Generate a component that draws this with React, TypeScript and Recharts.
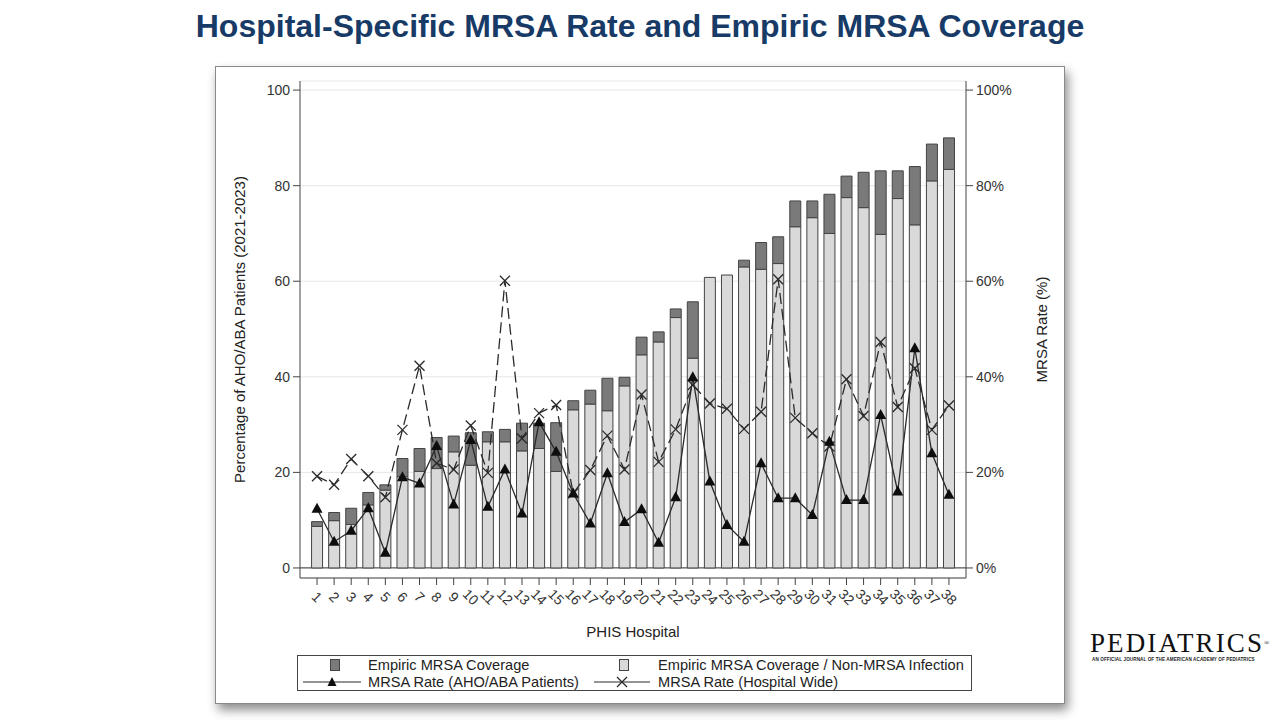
import React from 'react';
import {
  ComposedChart, Bar, Line, XAxis, YAxis, CartesianGrid,
} from 'recharts';

// PHIS hospitals, ordered by empiric MRSA coverage
const hospitals = [
  '1', '2', '3', '4', '5', '6', '7', '8', '9', '10',
  '11', '12', '13', '14', '15', '16', '17', '18', '19', '20',
  '21', '22', '23', '24', '25', '26', '27', '28', '29', '30',
  '31', '32', '33', '34', '35', '36', '37', '38',
];

// % of AHO/ABA patients with empiric MRSA coverage (full bar height)
const empiricCoverage = [
  9.7, 11.6, 12.5, 15.8, 17.4, 22.9, 25.0, 27.3, 27.6, 28.3,
  28.5, 29.0, 30.3, 30.3, 30.4, 35.0, 37.2, 39.7, 39.9, 48.3,
  49.4, 54.2, 55.7, 60.8, 61.3, 64.4, 68.1, 69.3, 76.8, 76.8,
  78.2, 82.0, 82.8, 83.1, 83.1, 84.0, 88.7, 90.0,
];

// ...of which the infection turned out not to be MRSA (light part)
const coverageNonMrsa = [
  8.7, 9.9, 9.1, 13.2, 16.3, 19.1, 20.2, 20.8, 24.3, 21.5,
  26.4, 26.4, 24.5, 25.0, 20.2, 33.1, 34.3, 32.9, 38.1, 44.6,
  47.3, 52.4, 43.9, 60.8, 61.3, 63.0, 62.5, 63.7, 71.4, 73.3,
  70.0, 77.5, 75.4, 69.8, 77.3, 71.8, 81.0, 83.4,
];

// MRSA rate (%) among AHO/ABA patients
const mrsaRateAho = [
  12.4, 5.5, 7.8, 12.5, 3.2, 19.0, 17.7, 25.5, 13.3, 26.8,
  12.8, 20.6, 11.4, 30.5, 24.3, 15.6, 9.3, 19.8, 9.6, 12.3,
  5.3, 14.8, 39.9, 18.1, 9.0, 5.5, 21.9, 14.6, 14.6, 11.1,
  26.4, 14.2, 14.2, 32.0, 16.0, 46.0, 24.0, 15.3,
];

// MRSA rate (%) hospital wide
const mrsaRateHospital = [
  19.2, 17.4, 22.8, 19.2, 14.8, 28.9, 42.3, 21.9, 20.6, 29.8,
  19.9, 60.1, 27.1, 32.4, 34.1, 15.6, 20.5, 27.7, 20.6, 36.3,
  22.2, 29.0, 38.3, 34.4, 33.3, 29.1, 32.7, 60.4, 31.4, 28.2,
  25.4, 39.5, 31.8, 47.3, 33.7, 41.8, 28.9, 34.0,
];

const yTicks = [0, 20, 40, 60, 80, 100];

const data = hospitals.map((h, i) => ({
  hospital: h,
  nonMrsa: coverageNonMrsa[i],
  coverage: +(empiricCoverage[i] - coverageNonMrsa[i]).toFixed(1),
  aho: mrsaRateAho[i],
  wide: mrsaRateHospital[i],
}));

const FONT = '"Liberation Sans", Arial, sans-serif';
const AXIS = '#444444';
const TEXT = '#333333';
const DARK_BAR = '#7a7a7a';
const LIGHT_BAR = '#d9d9d9';
const LINE = '#2a2a2a';

const tickStyle = { fill: TEXT, fontSize: 14, fontFamily: FONT };

const XTick = ({ x, y, payload }: any) => (
  <g transform={`translate(${x},${y + 10}) rotate(45)`}>
    <text textAnchor="middle" dy="0.35em" fill={TEXT} fontSize={14} fontFamily={FONT}>
      {payload.value}
    </text>
  </g>
);

const Triangle = ({ cx, cy, index }: any) => {
  if (cx == null || cy == null) return null;
  return (
    <polygon
      key={`tri-${index}`}
      points={`${cx},${cy - 6} ${cx - 5.5},${cy + 4} ${cx + 5.5},${cy + 4}`}
      fill="#0d0d0d"
    />
  );
};

const Cross = ({ cx, cy, index }: any) => {
  if (cx == null || cy == null) return null;
  const r = 5;
  return (
    <g key={`x-${index}`} stroke={LINE} strokeWidth={1.3} strokeDasharray="none">
      <line x1={cx - r} y1={cy - r} x2={cx + r} y2={cy + r} />
      <line x1={cx - r} y1={cy + r} x2={cx + r} y2={cy - r} />
    </g>
  );
};

const GridLine = (p: any) => (
  <line
    key={`g-${p.index}`}
    x1={p.x1} y1={p.y1} x2={p.x2} y2={p.y2}
    stroke={p.index === 0 ? '#555555' : '#e6e6e6'}
    strokeWidth={p.index === 0 ? 1.2 : 1}
  />
);

function LegendBox() {
  const text: React.CSSProperties = {
    position: 'absolute', fontSize: 14.6, fontFamily: FONT, color: '#222', lineHeight: '16px',
    whiteSpace: 'nowrap',
  };
  return (
    <div style={{
      position: 'absolute', left: 297, top: 655, width: 675, height: 36,
      border: '1px solid #444', background: '#fff', boxSizing: 'border-box',
    }}>
      <svg style={{ position: 'absolute', left: 32, top: 3 }} width={10} height={12}>
        <rect x={0.5} y={0.5} width={9} height={11} fill={DARK_BAR} stroke={AXIS} />
      </svg>
      <span style={{ ...text, left: 70, top: 1 }}>Empiric MRSA Coverage</span>
      <svg style={{ position: 'absolute', left: 321, top: 3 }} width={10} height={12}>
        <rect x={0.5} y={0.5} width={9} height={11} fill={LIGHT_BAR} stroke={AXIS} />
      </svg>
      <span style={{ ...text, left: 360, top: 1 }}>Empiric MRSA Coverage / Non-MRSA Infection</span>
      <svg style={{ position: 'absolute', left: 5, top: 19 }} width={58} height={14}>
        <line x1={0} y1={7} x2={58} y2={7} stroke={LINE} strokeWidth={1.2} />
        <polygon points="29,2 24.5,11 33.5,11" fill="#0d0d0d" />
      </svg>
      <span style={{ ...text, left: 70, top: 18 }}>MRSA Rate (AHO/ABA Patients)</span>
      <svg style={{ position: 'absolute', left: 296, top: 19 }} width={56} height={14}>
        <line x1={0} y1={7} x2={56} y2={7} stroke={LINE} strokeWidth={1.2} />
        <line x1={23} y1={2} x2={33} y2={12} stroke={LINE} strokeWidth={1.2} />
        <line x1={23} y1={12} x2={33} y2={2} stroke={LINE} strokeWidth={1.2} />
      </svg>
      <span style={{ ...text, left: 360, top: 18 }}>MRSA Rate (Hospital Wide)</span>
    </div>
  );
}

export default function App() {
  return (
    <div style={{
      position: 'absolute', left: 0, top: 0, width: 1280, height: 720,
      background: '#ffffff', overflow: 'hidden', fontFamily: FONT,
    }}>
      <div style={{
        position: 'absolute', left: 0, top: 8, width: 1280, textAlign: 'center',
        fontSize: 32, fontWeight: 700, color: '#173a66', fontFamily: FONT, whiteSpace: 'nowrap',
      }}>
        Hospital-Specific MRSA Rate and Empiric MRSA Coverage
      </div>

      {/* framed figure with drop shadow */}
      <div style={{
        position: 'absolute', left: 215, top: 66, width: 850, height: 638,
        border: '1px solid #8a8a8a', boxSizing: 'border-box', background: '#fff',
        boxShadow: '3px 6px 10px rgba(0,0,0,0.45)',
      }} />

      <div style={{ position: 'absolute', left: 215, top: 66 }}>
        <ComposedChart
          width={848}
          height={580}
          data={data}
          margin={{ top: 15, right: 0, bottom: 0, left: 0 }}
          barCategoryGap="18%"
        >
          <CartesianGrid vertical={false} horizontal={GridLine} yAxisId="left" />
          <XAxis
            dataKey="hospital"
            height={68}
            padding={{ left: 8.5, right: 8.5 }}
            interval={0}
            tickSize={7}
            tickMargin={2}
            tick={<XTick />}
            tickLine={{ stroke: AXIS }}
            axisLine={{ stroke: AXIS }}
            label={{
              value: 'PHIS Hospital', position: 'insideBottom', offset: 9,
              style: { fill: '#222', fontSize: 15, fontFamily: FONT },
            }}
          />
          <XAxis
            xAxisId="top"
            orientation="top"
            dataKey="hospital"
            height={0}
            tick={false}
            tickLine={false}
            axisLine={{ stroke: AXIS }}
          />
          <YAxis
            yAxisId="left"
            width={85}
            domain={[-2.1, 101.9]}
            ticks={yTicks}
            tickSize={7}
            tickMargin={3}
            tick={tickStyle}
            tickLine={{ stroke: AXIS }}
            axisLine={{ stroke: AXIS }}
            label={{
              value: 'Percentage of AHO/ABA Patients (2021-2023)', angle: -90,
              position: 'insideLeft', offset: 25,
              style: { textAnchor: 'middle', fill: '#222', fontSize: 15, fontFamily: FONT },
            }}
          />
          <YAxis
            yAxisId="right"
            orientation="right"
            width={97}
            domain={[-2.1, 101.9]}
            ticks={yTicks}
            tickFormatter={(v) => `${v}%`}
            tickSize={7}
            tickMargin={3}
            tick={tickStyle}
            tickLine={{ stroke: AXIS }}
            axisLine={{ stroke: AXIS }}
            label={{
              value: 'MRSA Rate (%)', angle: -90,
              position: 'insideRight', offset: 21,
              style: { textAnchor: 'middle', fill: '#222', fontSize: 15, fontFamily: FONT },
            }}
          />
          <Bar yAxisId="left" dataKey="nonMrsa" stackId="cov" fill={LIGHT_BAR}
            stroke={AXIS} strokeWidth={1} isAnimationActive={false} />
          <Bar yAxisId="left" dataKey="coverage" stackId="cov" fill={DARK_BAR}
            stroke={AXIS} strokeWidth={1} isAnimationActive={false} />
          <Line yAxisId="right" dataKey="wide" stroke={LINE} strokeWidth={1.3}
            strokeDasharray="11 5" dot={<Cross />} activeDot={false}
            isAnimationActive={false} type="linear" />
          <Line yAxisId="right" dataKey="aho" stroke={LINE} strokeWidth={1.3}
            dot={<Triangle />} activeDot={false} isAnimationActive={false} type="linear" />
        </ComposedChart>
      </div>

      <LegendBox />

      {/* journal mark */}
      <div style={{
        position: 'absolute', left: 1090, top: 628, fontFamily: '"Liberation Serif", "DejaVu Serif", serif',
        fontSize: 27, letterSpacing: 2.1, color: '#111', lineHeight: '30px', whiteSpace: 'nowrap',
      }}>
        PEDIATRICS<span style={{ fontSize: 7, verticalAlign: 'top', letterSpacing: 0 }}>®</span>
      </div>
      <div style={{
        position: 'absolute', left: 1092, top: 657, fontFamily: FONT, fontSize: 4.6,
        fontWeight: 700, color: '#222', letterSpacing: 0.1, whiteSpace: 'nowrap',
      }}>
        AN OFFICIAL JOURNAL OF THE AMERICAN ACADEMY OF PEDIATRICS
      </div>
    </div>
  );
}
